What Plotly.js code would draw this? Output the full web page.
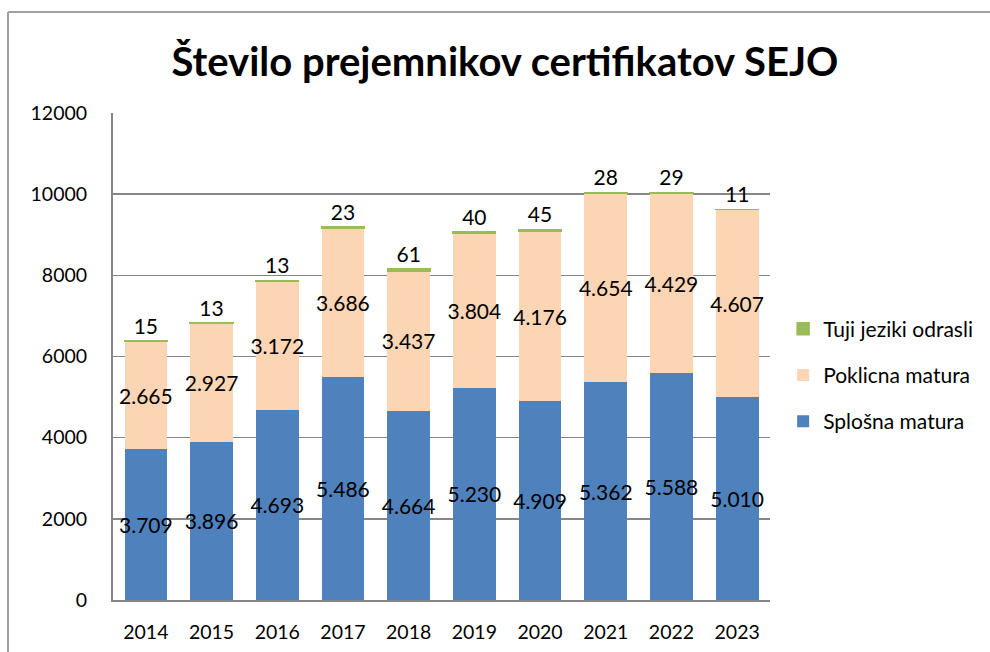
<!DOCTYPE html>
<html>
<head>
<meta charset="utf-8">
<script src="https://cdn.plot.ly/plotly-3.0.1.min.js"></script>
<style>
html,body{margin:0;padding:0;background:#fff;}
#chart{width:990px;height:652px;}
</style>
</head>
<body>
<div id="chart"></div>
<script>
var years = ['2014','2015','2016','2017','2018','2019','2020','2021','2022','2023'];
var splosna = [3709, 3896, 4693, 5486, 4664, 5230, 4909, 5362, 5588, 5010];
var poklicna = [2665, 2927, 3172, 3686, 3437, 3804, 4176, 4654, 4429, 4607];
var tuji = [15, 13, 13, 23, 61, 40, 45, 28, 29, 11];

var FONT = 'Lato, "Open Sans", sans-serif';

function fmt(v){
  return String(v).replace(/\B(?=(\d{3})+(?!\d))/g, '.');
}

var traces = [
  {
    type:'bar', name:'Splošna matura', x:years, y:splosna,
    marker:{color:'#4F81BD'},
    text: splosna.map(fmt), textposition:'inside', insidetextanchor:'middle',
    constraintext:'none', textangle:0,
    insidetextfont:{family:FONT, size:21, color:'#000'},
    hoverinfo:'x+y', legendgroup:'a', legendrank:3
  },
  {
    type:'bar', name:'Poklicna matura', x:years, y:poklicna,
    marker:{color:'#FCD5B5'},
    text: poklicna.map(fmt), textposition:'inside', insidetextanchor:'middle',
    constraintext:'none', textangle:0,
    insidetextfont:{family:FONT, size:21, color:'#000'},
    hoverinfo:'x+y', legendgroup:'b', legendrank:2
  },
  {
    type:'bar', name:'Tuji jeziki odrasli', x:years, y:tuji,
    marker:{color:'#9BBB59', line:{color:'#9BBB59', width:1.5}},
    text: tuji.map(fmt), textposition:'outside', constraintext:'none', textangle:0,
    outsidetextfont:{family:FONT, size:21, color:'#000'},
    cliponaxis:false,
    hoverinfo:'x+y', legendgroup:'c', legendrank:1
  }
];

var layout = {
  width:990, height:652,
  paper_bgcolor:'#fff', plot_bgcolor:'#fff',
  barmode:'stack', bargap:0.35,
  margin:{l:113, r:220, t:113, b:52, pad:0},
  font:{family:FONT, size:19, color:'#000'},
  title:{
    text:'<b>Število prejemnikov certifikatov SEJO</b>',
    font:{family:FONT, size:40, color:'#000'},
    xref:'container', x:0.51, xanchor:'center',
    yref:'container', y:0.905, yanchor:'middle'
  },
  xaxis:{
    type:'category', showgrid:false, showline:true, linecolor:'#868686', linewidth:2,
    ticks:'', tickfont:{family:FONT, size:19.5, color:'#000'}, ticklabelstandoff:14
  },
  yaxis:{
    range:[0,12000], dtick:2000, tickformat:'d',
    showgrid:true, gridcolor:'#868686', gridwidth:1.5,
    showline:true, linecolor:'#868686', linewidth:2,
    zeroline:false, ticks:'', ticklabelstandoff:20,
    tickfont:{family:FONT, size:19.5, color:'#000'}
  },
  legend:{
    x:1.02, xanchor:'left', y:0.462, yanchor:'middle',
    traceorder:'grouped', tracegroupgap:16,
    font:{family:FONT, size:21, color:'#000'},
    bgcolor:'rgba(0,0,0,0)', itemwidth:30
  },
  shapes:[
    {type:'line', xref:'paper', yref:'paper', x0:-0.1598, x1:1.34, y0:1.2074, y1:1.2074,
     line:{color:'#A0A0A0', width:2}},
    {type:'line', xref:'paper', yref:'paper', x0:-0.1598, x1:-0.1598, y0:-0.11, y1:1.2074,
     line:{color:'#A0A0A0', width:2}}
  ]
};

Plotly.newPlot('chart', traces, layout, {displayModeBar:false, staticPlot:true});
</script>
</body>
</html>
